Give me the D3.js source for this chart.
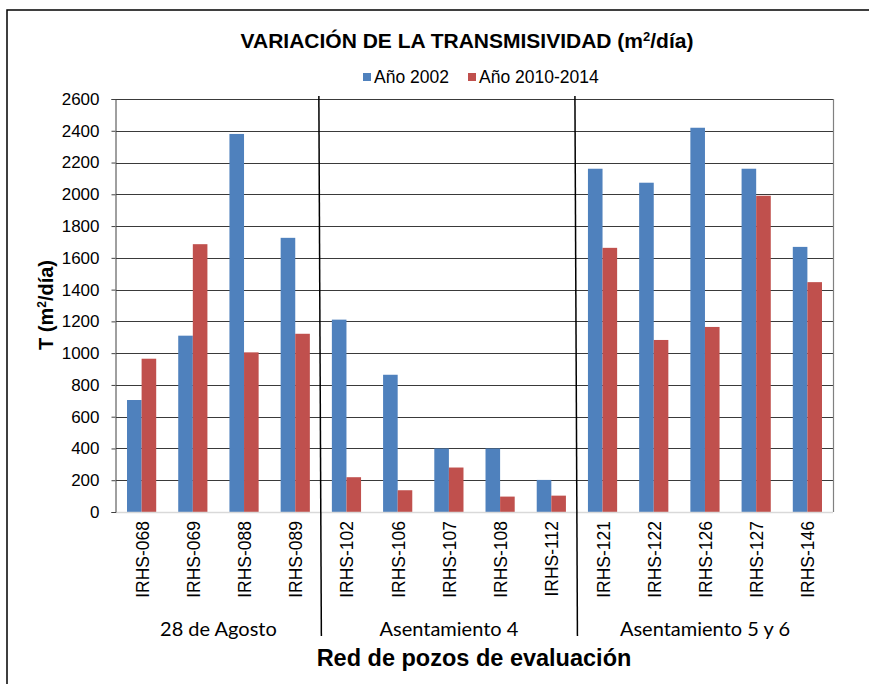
<!DOCTYPE html>
<html>
<head>
<meta charset="utf-8">
<script src="https://cdn.jsdelivr.net/npm/d3@7"></script>
<style>
  body { margin: 0; background: #fff; }
  svg { display: block; }
</style>
</head>
<body>
<div id="chart"></div>
<script>
// data
var wells = ['IRHS-068', 'IRHS-069', 'IRHS-088', 'IRHS-089',
  'IRHS-102', 'IRHS-106', 'IRHS-107', 'IRHS-108', 'IRHS-112',
  'IRHS-121', 'IRHS-122', 'IRHS-126', 'IRHS-127', 'IRHS-146']
var series = ['Año 2002', 'Año 2010-2014']
var t2002 = [705, 1110, 2380, 1726, 1211, 864, 400, 400, 202, 2161, 2073, 2419, 2161, 1669]
var t2010 = [965, 1686, 1005, 1122, 219, 137, 280, 97, 103, 1663, 1083, 1165, 1991, 1447]
var groups = ['28 de Agosto', 'Asentamiento 4', 'Asentamiento 5 y 6']
var groupSizes = [4, 5, 5]
var yTicks = [0, 200, 400, 600, 800, 1000, 1200, 1400, 1600, 1800, 2000, 2200, 2400, 2600]
var colors = ['#4F81BD', '#C0504D']

var W = 869, H = 684
var plot = {left: 116, right: 833, top: 99, bottom: 512}
var arial = '"Liberation Sans", Arial, sans-serif'
var calibri = 'Lato, "Open Sans", sans-serif'

var svg = d3.select('#chart')
  .append('svg')
    .attr('width', W)
    .attr('height', H)

// outer chart frame (runs off the right and bottom of the picture)
svg.append('rect')
  .attr('x', 7).attr('y', 10)
  .attr('width', W + 20).attr('height', H + 20)
  .attr('fill', 'none')
  .attr('stroke', '#000')
  .attr('stroke-width', 1.5)

var x0 = d3.scaleBand()
  .domain(wells)
  .range([plot.left, plot.right])
  .paddingInner(0.43)
  .paddingOuter(0.215)

var x1 = d3.scaleBand()
  .domain(series)
  .range([0, x0.bandwidth()])

var y = d3.scaleLinear()
  .domain([0, 2600])
  .range([plot.bottom, plot.top])

var step = x0.step()
var edge = i => x0(wells[i]) - step * x0.paddingInner() / 2

// gridlines
svg.append('g')
  .selectAll('line')
  .data(yTicks.filter(d => d > 0))
    .enter()
  .append('line')
    .attr('x1', plot.left).attr('x2', plot.right)
    .attr('y1', d => Math.round(y(d)) + 0.5)
    .attr('y2', d => Math.round(y(d)) + 0.5)
    .attr('stroke', '#3a3a3a')
    .attr('stroke-width', 1)

// bars
var rows = wells.map((w, i) => ({well: w, vals: [t2002[i], t2010[i]]}))
var cat = svg.append('g').selectAll('g')
  .data(rows)
    .enter()
  .append('g')
    .attr('transform', d => 'translate(' + x0(d.well) + ',0)')

cat.selectAll('rect')
  .data(d => d.vals.map((v, k) => ({s: series[k], v: v, k: k})))
    .enter()
  .append('rect')
    .attr('x', d => x1(d.s))
    .attr('width', x1.bandwidth())
    .attr('y', d => y(d.v))
    .attr('height', d => y(0) - y(d.v))
    .attr('fill', d => colors[d.k])

// plot frame: grey right edge, light bottom axis, dark left axis
svg.append('line')
  .attr('x1', plot.right + 0.5).attr('x2', plot.right + 0.5)
  .attr('y1', plot.top).attr('y2', plot.bottom)
  .attr('stroke', '#808080').attr('stroke-width', 1.2)
svg.append('line')
  .attr('x1', plot.left).attr('x2', plot.right)
  .attr('y1', plot.bottom + 0.5).attr('y2', plot.bottom + 0.5)
  .attr('stroke', '#d9d9d9').attr('stroke-width', 1.5)

var yAxis = svg.append('g')
  .attr('transform', 'translate(' + (plot.left - 0.5) + ',0)')
  .call(d3.axisLeft(y).tickValues(yTicks).tickSize(4).tickPadding(12).tickFormat(d3.format('d')))
yAxis.select('.domain').attr('stroke', '#404040')
yAxis.selectAll('.tick line').attr('stroke', '#404040')
yAxis.selectAll('text')
  .attr('font-family', arial)
  .attr('font-size', 17)
  .attr('fill', '#000')

// group separators through plot and label area
svg.append('g')
  .selectAll('line')
  .data([4, 9])
    .enter()
  .append('line')
    .attr('x1', d => edge(d) - 2).attr('x2', d => edge(d) + 0.5)
    .attr('y1', plot.top - 3).attr('y2', 636)
    .attr('stroke', '#000')
    .attr('stroke-width', 1.5)

// rotated well labels
svg.append('g')
  .selectAll('text')
  .data(wells)
    .enter()
  .append('text')
    .attr('transform', d => 'translate(' + (x0(d) + x0.bandwidth() / 2 + 7) + ',521) rotate(-90)')
    .attr('text-anchor', 'end')
    .attr('font-family', arial)
    .attr('font-size', 17.5)
    .text(d => d)

// group labels centred under their wells
var start = 0
var groupPos = groupSizes.map(n => {
  var a = edge(start), b = start + n < wells.length ? edge(start + n) : plot.right
  start += n
  return (a + b) / 2
})
svg.append('g')
  .selectAll('text')
  .data(groups)
    .enter()
  .append('text')
    .attr('x', (d, i) => groupPos[i])
    .attr('y', 636)
    .attr('text-anchor', 'middle')
    .attr('font-family', calibri)
    .attr('font-size', 20)
    .text(d => d)

// titles
var title = svg.append('text')
  .attr('x', 467).attr('y', 48)
  .attr('text-anchor', 'middle')
  .attr('font-family', arial)
  .attr('font-weight', 'bold')
  .attr('font-size', 21)
title.append('tspan').text('VARIACIÓN DE LA TRANSMISIVIDAD (m')
title.append('tspan').attr('font-size', 13).attr('dy', -7).text('2')
title.append('tspan').attr('dy', 7).text('/día)')

svg.append('text')
  .attr('x', 474).attr('y', 666)
  .attr('text-anchor', 'middle')
  .attr('font-family', arial)
  .attr('font-weight', 'bold')
  .attr('font-size', 23.5)
  .text('Red de pozos de evaluación')

var yTitle = svg.append('text')
  .attr('transform', 'translate(53,305) rotate(-90)')
  .attr('text-anchor', 'middle')
  .attr('font-family', arial)
  .attr('font-weight', 'bold')
  .attr('font-size', 20)
yTitle.append('tspan').text('T (m')
yTitle.append('tspan').attr('font-size', 12).attr('dy', -7).text('2')
yTitle.append('tspan').attr('dy', 7).text('/día)')

// legend
var legendX = [363, 468]
var leg = svg.append('g').selectAll('g')
  .data(series)
    .enter()
  .append('g')
    .attr('transform', (d, i) => 'translate(' + legendX[i] + ',73)')
leg.append('rect')
  .attr('width', 8).attr('height', 8)
  .attr('fill', (d, i) => colors[i])
leg.append('text')
  .attr('x', 11).attr('y', 10)
  .attr('font-family', arial)
  .attr('font-size', 17.5)
  .text(d => d)
</script>
</body>
</html>
